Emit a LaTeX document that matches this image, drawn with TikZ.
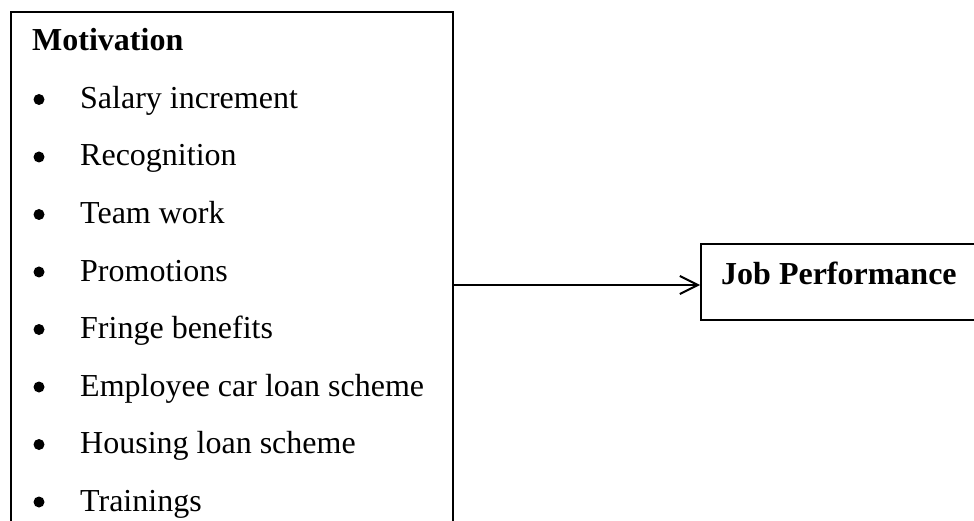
\documentclass[tikz,border=0pt]{standalone}
\usepackage{fontspec}
\setmainfont{Liberation Serif}
\usetikzlibrary{arrows.meta}
\begin{document}
\begin{tikzpicture}[x=1pt,y=-1pt,
  frame/.style={draw,line width=2pt,rectangle,inner sep=0pt,anchor=north west},
  heading/.style={anchor=base west,inner sep=0pt,font=\fontsize{32}{38}\selectfont\bfseries},
  item/.style={anchor=base west,inner sep=0pt,font=\fontsize{32}{38}\selectfont},
  dot/.style={circle,fill,inner sep=0pt,minimum size=11pt},
  link/.style={line width=2pt,-{Straight Barb[length=18pt,width=18pt,line width=2pt]}}]
\useasboundingbox (0,0) rectangle (974,521);
\clip (0,0) rectangle (974,521);
% factor box (runs past the lower edge) and outcome box (runs past the right edge)
\node[frame,minimum width=442pt,minimum height=540pt] (motiv) at (10,11) {};
\node[frame,minimum width=300pt,minimum height=76pt] (jp) at (700,243) {};
\node[heading] (mtitle) at (32,51) {Motivation};
\foreach \t [count=\i] in {Salary increment,Recognition,Team work,Promotions,Fringe benefits,Employee car loan scheme,Housing loan scheme,Trainings}{
  \node[dot] (b\i) at (39,{51+57.5*\i-9}) {};
  \node[item] (it\i) at (80,{51+57.5*\i}) {\t};
}
\node[heading] (jptext) at (721,284) {Job Performance};
\coordinate (arrowy) at (0,285);
\draw[link] (motiv.east |- arrowy) -- (jp.west |- arrowy);
\end{tikzpicture}
\end{document}
